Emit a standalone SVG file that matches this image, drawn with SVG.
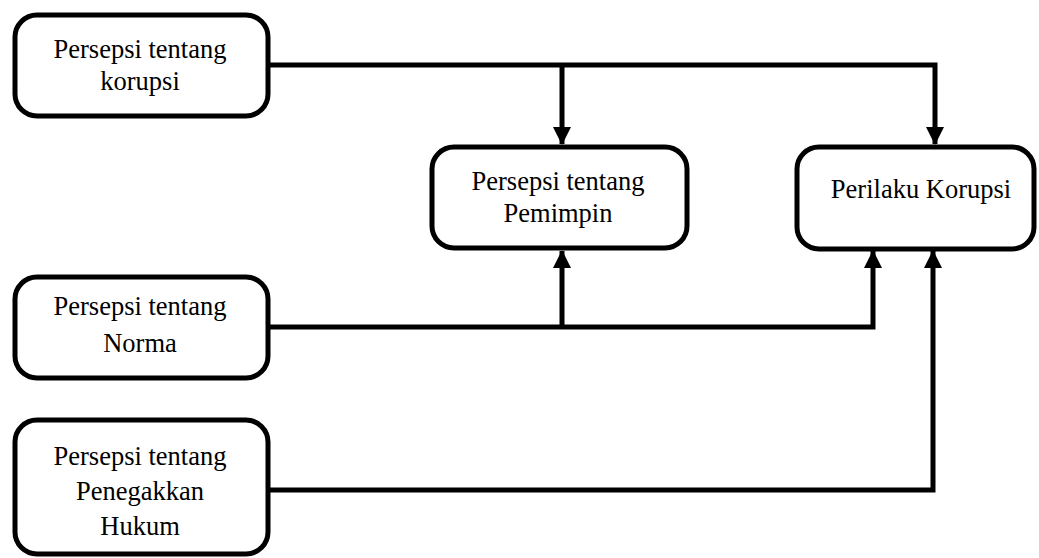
<svg xmlns="http://www.w3.org/2000/svg" width="1039" height="558" viewBox="0 0 1039 558">
<style>
.box{fill:#fff;stroke:#000;stroke-width:5}
.t{font-family:"Liberation Serif","Times New Roman",serif;font-size:26.5px;fill:#000;text-anchor:middle}
.c{fill:none;stroke:#000;stroke-width:5}
</style>
<defs>
<marker id="ah" markerUnits="userSpaceOnUse" markerWidth="18" markerHeight="18" viewBox="0 0 18 18" refX="17" refY="9" orient="auto">
<path d="M0,0 L18,9 L0,18 Z" fill="#000"/>
</marker>
</defs>
<g id="connectors">
<path class="c" d="M268,65 H935 V144" marker-end="url(#ah)"/>
<path class="c" d="M562,65 V144" marker-end="url(#ah)"/>
<path class="c" d="M268,327 H873 V251" marker-end="url(#ah)"/>
<path class="c" d="M562,327 V251" marker-end="url(#ah)"/>
<path class="c" d="M268,490 H933 V251" marker-end="url(#ah)"/>
</g>
<g id="n1">
<rect class="box" x="15" y="15" width="253" height="101" rx="22"/>
<text class="t" x="140" y="58">Persepsi tentang</text>
<text class="t" x="140" y="90">korupsi</text>
</g>
<g id="n2">
<rect class="box" x="432" y="147" width="255" height="101" rx="22"/>
<text class="t" x="558" y="190">Persepsi tentang</text>
<text class="t" x="558" y="222">Pemimpin</text>
</g>
<g id="n3">
<rect class="box" x="797" y="147" width="237" height="102" rx="22"/>
<text class="t" x="921" y="198">Perilaku Korupsi</text>
</g>
<g id="n4">
<rect class="box" x="15" y="277" width="253" height="101" rx="22"/>
<text class="t" x="140" y="315">Persepsi tentang</text>
<text class="t" x="140" y="352">Norma</text>
</g>
<g id="n5">
<rect class="box" x="15" y="420" width="253" height="134" rx="22"/>
<text class="t" x="140" y="465">Persepsi tentang</text>
<text class="t" x="140" y="500">Penegakkan</text>
<text class="t" x="140" y="535">Hukum</text>
</g>
</svg>
